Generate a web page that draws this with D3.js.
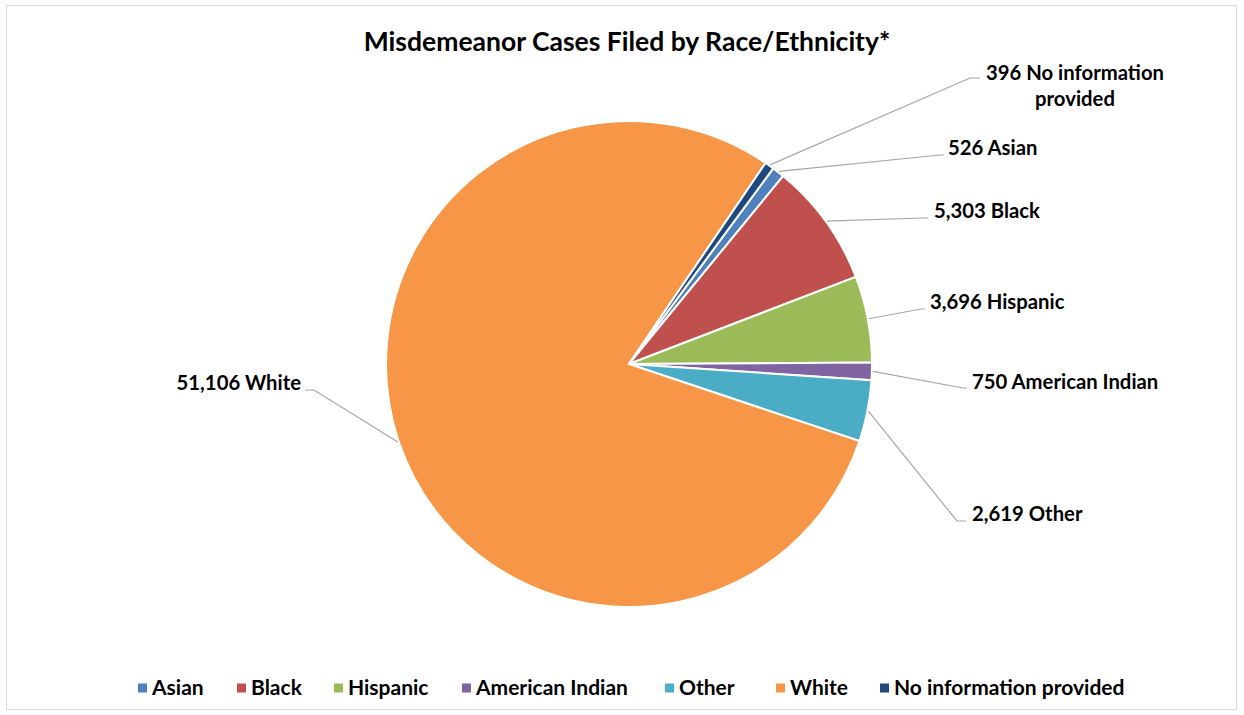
<!DOCTYPE html>
<html>
<head>
<meta charset="utf-8">
<script src="https://cdnjs.cloudflare.com/ajax/libs/d3/7.8.5/d3.min.js"></script>
<style>
  body { margin: 0; background: #fff; }
  text { font-family: Lato, "Open Sans", sans-serif; font-weight: 700; fill: #000; }
</style>
</head>
<body>
<div id="ChartContainer"></div>
<script>
// chart data
var categories = ["Asian", "Black", "Hispanic", "American Indian", "Other", "White", "No information provided"];
var cases = [526, 5303, 3696, 750, 2619, 51106, 396];
var labelNames = ["Asian", "Black", "Hispanic", "American Indian", "Other", "White", "No information\nprovided"];

var colors = ["#4f81bd", "#c0504d", "#9bbb59", "#8064a2", "#4bacc6", "#f79646", "#1f497d"];

// where each data label sits (elbow of leader line, end of leader, text start)
var labelLayout = [
    { elbow: [940, 155], end: [944, 155], tx: 948, ty: 148, anchor: "start" },
    { elbow: [923, 218], end: [928, 218], tx: 934, ty: 211, anchor: "start" },
    { elbow: [921, 309], end: [925, 309], tx: 930, ty: 302, anchor: "start" },
    { elbow: [963, 388], end: [967, 388], tx: 972, ty: 382, anchor: "start" },
    { elbow: [957, 521], end: [966, 521], tx: 972, ty: 514, anchor: "start" },
    { elbow: [314, 390], end: [305, 390], tx: 301, ty: 383, anchor: "end" },
    { elbow: [970, 78], end: [980, 78], tx: 1075, ty: 73, anchor: "middle" }
];

var data = categories.map(function (c, i) {
    return { name: c, value: cases[i], label: labelNames[i], color: colors[i], pos: labelLayout[i] };
});

var width = 1244, height = 715;
var svg = d3.select('#ChartContainer')
    .append('svg')
    .attr('width', width)
    .attr('height', height);

// chart area border
svg.append("rect")
    .attr("x", 6.5).attr("y", 5.5)
    .attr("width", 1230).attr("height", 704)
    .attr("fill", "#fff")
    .attr("stroke", "#d9d9d9");

svg.append("text")
    .attr("x", 627)
    .attr("y", 51)
    .attr("text-anchor", "middle")
    .style("font-size", "26.5px")
    .text("Misdemeanor Cases Filed by Race/Ethnicity*");

var cx = 629, cy = 364, radius = 243;
var g = svg.append("g").attr("transform", "translate(" + cx + "," + cy + ")");

var startAngle = 36.4 * Math.PI / 180;
var pie = d3.pie()
    .sort(null)
    .startAngle(startAngle)
    .endAngle(startAngle + 2 * Math.PI)
    .value(function (d) { return d.value; });

var path = d3.arc().outerRadius(radius).innerRadius(0);

var arcs = pie(data);

g.selectAll(".slice")
    .data(arcs)
    .enter().append("path")
    .attr("class", "slice")
    .attr("d", path)
    .attr("fill", function (d) { return d.data.color; })
    .attr("stroke", "#fff")
    .attr("stroke-width", 2);

// leader lines
svg.selectAll(".leader")
    .data(arcs)
    .enter().append("polyline")
    .attr("class", "leader")
    .attr("fill", "none")
    .attr("stroke", "#a6a6a6")
    .attr("stroke-width", 1.2)
    .attr("points", function (d) {
        var a = (d.startAngle + d.endAngle) / 2;
        var x0 = cx + Math.sin(a) * (radius + 1);
        var y0 = cy - Math.cos(a) * (radius + 1);
        var p = d.data.pos;
        return [[x0, y0], p.elbow, p.end].map(function (q) { return q.join(","); }).join(" ");
    });

// data labels
var fmt = d3.format(",");
var lbl = svg.selectAll(".dlabel")
    .data(arcs)
    .enter().append("text")
    .attr("class", "dlabel")
    .attr("text-anchor", function (d) { return d.data.pos.anchor; })
    .attr("x", function (d) { return d.data.pos.tx; })
    .attr("y", function (d) { return d.data.pos.ty; })
    .style("font-size", "20.3px");

lbl.each(function (d) {
    var lines = (fmt(d.data.value) + " " + d.data.label).split("\n");
    var t = d3.select(this);
    lines.forEach(function (l, i) {
        t.append("tspan")
            .attr("x", d.data.pos.tx)
            .attr("dy", i === 0 ? "0.35em" : "26px")
            .text(l);
    });
});

// legend
var legendX = [138, 237, 334, 462, 665, 776, 880];
var legend = svg.selectAll(".legend")
    .data(data)
    .enter().append("g")
    .attr("class", "legend")
    .attr("transform", function (d, i) { return "translate(" + legendX[i] + ",688)"; });

legend.append("rect")
    .attr("x", 0).attr("y", -4.5)
    .attr("width", 9).attr("height", 9)
    .attr("fill", function (d) { return d.color; });

legend.append("text")
    .attr("x", 14)
    .attr("dy", "0.35em")
    .style("font-size", "21px")
    .text(function (d) { return d.name; });
</script>
</body>
</html>
